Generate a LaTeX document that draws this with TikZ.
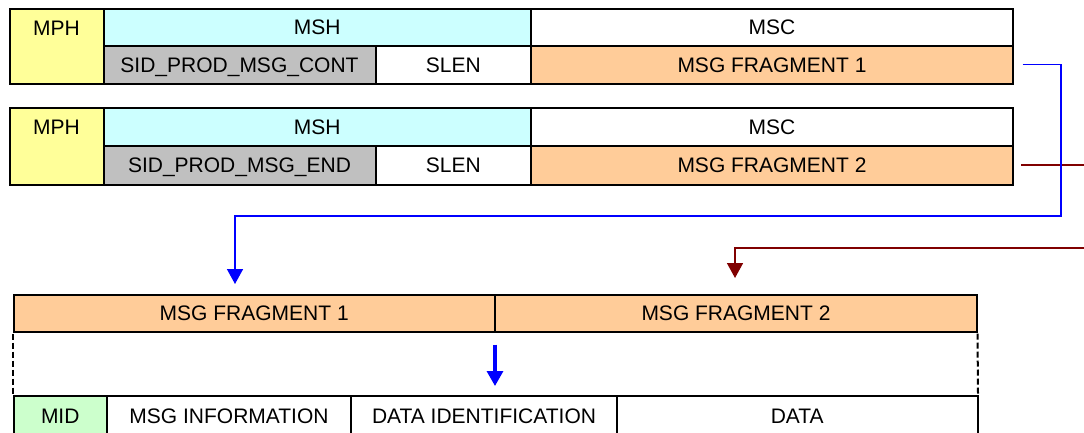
\documentclass[tikz,border=0pt]{standalone}
\usepackage{fontspec}
\setmainfont{Liberation Sans}
\usetikzlibrary{arrows.meta,calc}
\definecolor{cyell}{HTML}{FFFF99}
\definecolor{ccyan}{HTML}{CCFFFF}
\definecolor{cgray}{HTML}{C0C0C0}
\definecolor{corange}{HTML}{FFCC99}
\definecolor{cgreen}{HTML}{CCFFCC}
\definecolor{cblue}{HTML}{0000FF}
\definecolor{cdred}{HTML}{800000}
\begin{document}
\begin{tikzpicture}[x=1pt,y=-1pt,
  txt/.style={font=\fontsize{21}{24}\selectfont,text height=15pt,text depth=0pt},
  cell/.style={draw=black,line width=2pt,inner sep=0pt,anchor=north west,txt},
  bluec/.style={draw=cblue,line width=1.6pt,-{Triangle[length=15pt,width=16pt]}},
  redc/.style={draw=cdred,line width=1.6pt,-{Triangle[length=15pt,width=16pt]}},
  thickarrow/.style={draw=cblue,line width=3.2pt,-{Triangle[length=15pt,width=16pt]}},
  dashc/.style={draw=black,line width=2pt,dash pattern=on 6pt off 3pt},
]
\useasboundingbox (0,0) rectangle (1084,432);
\clip (0,0) rectangle (1084,432);
% block 1
\node[cell,fill=cyell,minimum width=94pt,minimum height=75pt,label={[txt,yshift=18.5pt]center:MPH}] (mph1) at (8.5,7.5) {};
\node[cell,fill=ccyan,minimum width=427.5pt,minimum height=37pt] (msh1) at (102.5,7.5) {MSH};
\node[cell,fill=white,minimum width=482pt,minimum height=37pt] (msc1) at (530,7.5) {MSC};
\node[cell,fill=cgray,minimum width=272pt,minimum height=38pt] (sid1) at (102.5,44.5) {SID\_PROD\_MSG\_CONT};
\node[cell,fill=white,minimum width=155.5pt,minimum height=38pt] (slen1) at (374.5,44.5) {SLEN};
\node[cell,fill=corange,minimum width=482pt,minimum height=38pt] (f1) at (530,44.5) {MSG FRAGMENT 1};
% block 2
\node[cell,fill=cyell,minimum width=94pt,minimum height=76.5pt,label={[txt,yshift=19pt]center:MPH}] (mph2) at (8.5,107) {};
\node[cell,fill=ccyan,minimum width=427.5pt,minimum height=38pt] (msh2) at (102.5,107) {MSH};
\node[cell,fill=white,minimum width=482pt,minimum height=38pt] (msc2) at (530,107) {MSC};
\node[cell,fill=cgray,minimum width=272pt,minimum height=38.5pt] (sid2) at (102.5,145) {SID\_PROD\_MSG\_END};
\node[cell,fill=white,minimum width=155.5pt,minimum height=38.5pt] (slen2) at (374.5,145) {SLEN};
\node[cell,fill=corange,minimum width=482pt,minimum height=38.5pt] (f2) at (530,145) {MSG FRAGMENT 2};
% bottom bar
\node[cell,fill=corange,minimum width=481.5pt,minimum height=37pt] (b1) at (12.5,293.5) {MSG FRAGMENT 1};
\node[cell,fill=corange,minimum width=482pt,minimum height=37pt] (b2) at (494,293.5) {MSG FRAGMENT 2};
% bottom row
\node[cell,fill=cgreen,minimum width=93.5pt,minimum height=40pt] (mid) at (12.5,395) {MID};
\node[cell,fill=white,minimum width=244pt,minimum height=40pt] (info) at (106,395) {MSG INFORMATION};
\node[cell,fill=white,minimum width=266pt,minimum height=40pt] (did) at (350,395) {DATA IDENTIFICATION};
\node[cell,fill=white,minimum width=360.5pt,minimum height=40pt] (data) at (616,395) {DATA};
% dashed
\draw[dashc] ([xshift=0.5pt,yshift=-1pt]b1.south west) -- ([xshift=0.5pt,yshift=1pt]mid.north west);
\draw[dashc] ([xshift=-0.5pt,yshift=-1pt]b2.south east) -- ([xshift=-0.5pt,yshift=1pt]data.north east);
% connectors
\coordinate (rs) at ($(f2.east)+(7,0)$);
\coordinate (rturn) at (1095,248);
\coordinate (rend) at (735,278);
\draw[redc] (rs) -| (rturn) -| (rend);
\coordinate (bs) at ($(f1.east)+(8.5,0)$);
\coordinate (bturn) at (1061,216);
\coordinate (bend) at (235,284);
\draw[bluec] (bs) -| (bturn) -| (bend);
\coordinate (ts) at ($(b1.south east)+(-1,12)$);
\coordinate (te) at ($(b1.south east)+(-1,53.5)$);
\draw[thickarrow] (ts) -- (te);
\end{tikzpicture}
\end{document}
